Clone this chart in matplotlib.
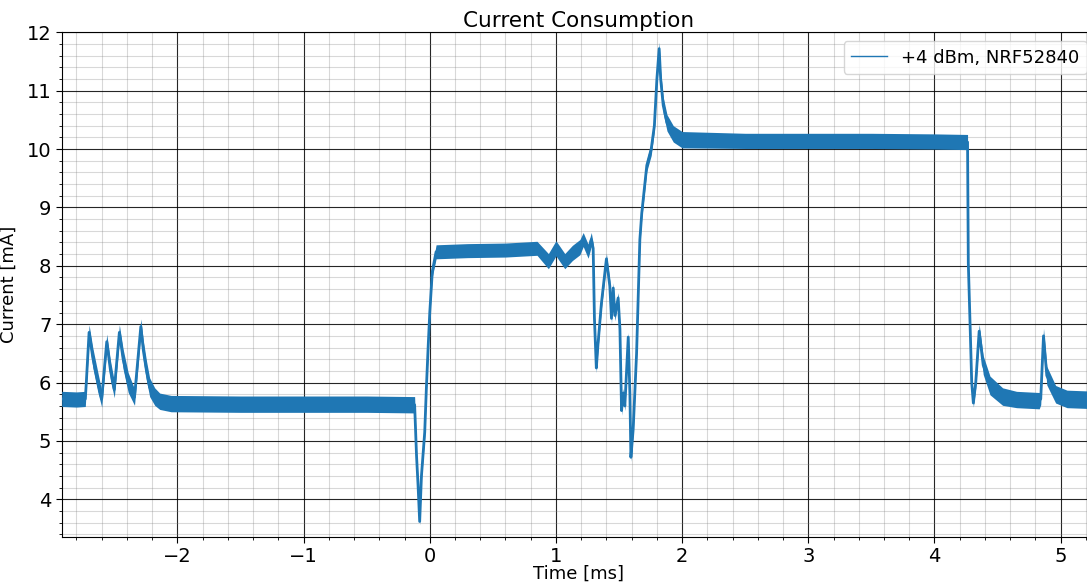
import numpy as np
import matplotlib
matplotlib.use("Agg")
import matplotlib.pyplot as plt
from matplotlib.ticker import MultipleLocator

# ---- data (time in ms, current in mA) ----
time_ms = [-2.917, -2.80, -2.73, -2.722, -2.70, -2.67, -2.63, -2.60,
           -2.56, -2.53, -2.50, -2.46, -2.43, -2.39, -2.34, -2.29,
           -2.27, -2.245, -2.22, -2.18, -2.14, -2.05, -1.5, -1.0, -0.5, -0.12,
           -0.105, -0.093, -0.08, -0.066, -0.04, -0.027, -0.013, 0.0, 0.02, 0.05,
           0.3, 0.6, 0.85, 0.94, 1.0, 1.07, 1.13, 1.19, 1.216, 1.255, 1.28, 1.295,
           1.305, 1.32, 1.333, 1.36, 1.40, 1.427, 1.44, 1.454, 1.467, 1.493, 1.507,
           1.52, 1.533, 1.546, 1.573, 1.586, 1.594, 1.612, 1.639, 1.665, 1.68,
           1.72, 1.755, 1.78, 1.80, 1.818, 1.83, 1.85, 1.88, 1.93, 2.0,
           2.5, 3.0, 3.5, 4.0, 4.262, 4.268, 4.282, 4.295, 4.308, 4.327, 4.354,
           4.386, 4.44, 4.54, 4.65, 4.83, 4.842, 4.864, 4.89, 4.96, 5.05, 5.30]
current_mid = [5.72, 5.71, 5.72, 6.0, 6.86, 6.42, 6.0, 5.72,
               6.70, 6.2, 5.88, 6.86, 6.4, 6.0, 5.75, 6.96,
               6.55, 6.2, 5.92, 5.76, 5.68, 5.64, 5.63, 5.63, 5.63, 5.62,
               4.75, 4.25, 3.62, 4.4, 5.15, 5.9, 6.6, 7.2, 7.9, 8.24,
               8.26, 8.27, 8.30, 8.08, 8.30, 8.08, 8.22, 8.32, 8.45, 8.25, 8.45, 8.30,
               7.1, 6.25, 6.65, 7.35, 8.12, 7.65, 7.1, 7.62, 7.15, 7.45, 6.92,
               5.52, 5.82, 5.6, 6.78, 5.82, 4.72, 5.2, 6.5, 8.45, 8.9,
               9.72, 10.0, 10.4, 11.2, 11.72, 11.2, 10.75, 10.45, 10.26, 10.16,
               10.14, 10.14, 10.14, 10.13, 10.12, 8.05, 7.0, 6.0, 5.65, 6.0, 6.88,
               6.3, 5.95, 5.76, 5.71, 5.69, 5.72, 6.80, 6.12, 5.8, 5.72, 5.70]
noise_half = [0.13, 0.13, 0.13, 0.10, 0.13, 0.17, 0.17, 0.14,
              0.13, 0.17, 0.14, 0.13, 0.17, 0.17, 0.14, 0.13,
              0.17, 0.17, 0.16, 0.15, 0.14, 0.14, 0.14, 0.14, 0.14, 0.14,
              0.07, 0.07, 0.06, 0.07, 0.07, 0.07, 0.07, 0.07, 0.09, 0.12,
              0.12, 0.12, 0.12, 0.13, 0.13, 0.13, 0.13, 0.13, 0.12, 0.12, 0.12, 0.09,
              0.07, 0.08, 0.09, 0.09, 0.09, 0.09, 0.09, 0.09, 0.09, 0.09, 0.08,
              0.08, 0.08, 0.08, 0.08, 0.08, 0.07, 0.08, 0.08, 0.08, 0.09,
              0.10, 0.11, 0.09, 0.09, 0.11, 0.12, 0.14, 0.14, 0.14, 0.14,
              0.13, 0.13, 0.13, 0.13, 0.13, 0.05, 0.05, 0.06, 0.07, 0.09, 0.12,
              0.16, 0.16, 0.15, 0.14, 0.14, 0.10, 0.13, 0.16, 0.15, 0.15, 0.15]

series_label = "+4 dBm, NRF52840"
title_text = "Current Consumption"
x_label = "Time [ms]"
y_label = "Current [mA]"

t = np.array(time_ms)
mid = np.array(current_mid)
half = np.array(noise_half)

W, H = 1087, 583
fig = plt.figure(figsize=(W / 100, H / 100), dpi=100)
ax = fig.add_axes([61.7 / W, 46.3 / H, (1096 - 61.7) / W, (536.7 - 32.3) / H])

color = "#1f77b4"
ax.fill_between(t, mid - half, mid + half, color=color, lw=0, zorder=3)
ax.plot(t, mid, color=color, lw=2.0, label=series_label, zorder=4)

ax.set_xlim(-2.917, 5.28)
ax.set_ylim(3.36, 12)
ax.xaxis.set_major_locator(MultipleLocator(1))
ax.xaxis.set_minor_locator(MultipleLocator(0.2))
ax.yaxis.set_major_locator(MultipleLocator(1))
ax.yaxis.set_minor_locator(MultipleLocator(0.2))
ax.grid(which="major", color="black", lw=0.8, alpha=0.85)
ax.grid(which="minor", color="gray", lw=0.8, alpha=0.3)
ax.set_axisbelow(True)

ax.tick_params(which="major", labelsize=14, length=4)
ax.tick_params(which="minor", length=2)
ax.set_title(title_text, fontsize=15.5, pad=4)
ax.set_xlabel(x_label, fontsize=13, labelpad=-1)
ax.set_ylabel(y_label, fontsize=13, labelpad=6)
leg = ax.legend(loc="upper right", fontsize=13, framealpha=0.8)
leg.get_lines()[0].set_linewidth(1.0)

fig.savefig("out.png", dpi=100)
